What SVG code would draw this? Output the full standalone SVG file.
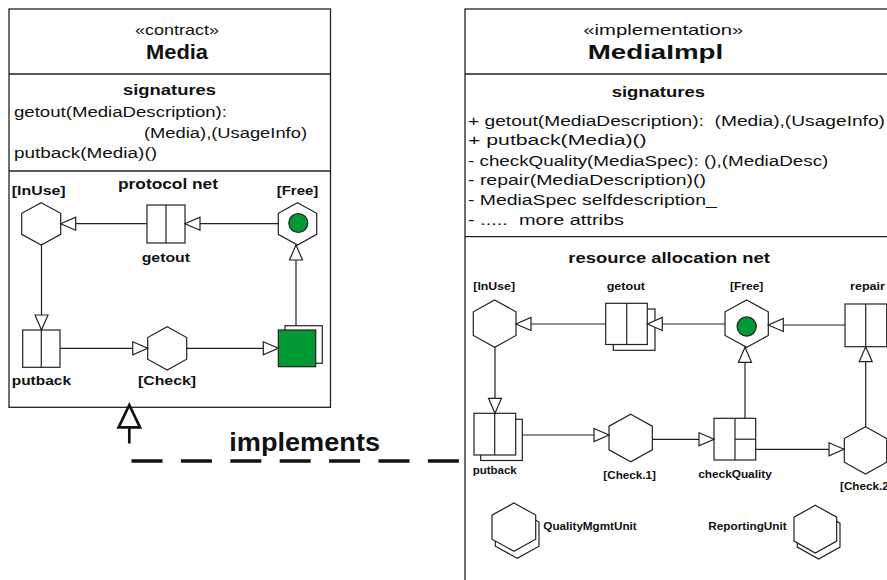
<svg xmlns="http://www.w3.org/2000/svg" width="887" height="580" viewBox="0 0 887 580">
  <style>
    .box { fill: #fff; stroke: #222; stroke-width: 1.3; }
    .div { stroke: #222; stroke-width: 1.3; fill: none; }
    .sh { fill: #fff; stroke: #222; stroke-width: 1.2; }
    .ln { stroke: #222; stroke-width: 1.2; fill: none; }
    .grn { fill: #009933; stroke: #222; stroke-width: 1.2; }
    text { font-family: "Liberation Sans", Arial, Helvetica, sans-serif; fill: #111; }
    .b { font-weight: bold; }
  </style>
  <defs>
    <marker id="open" viewBox="-1 -8 18 16" refX="15" refY="0" markerWidth="18" markerHeight="16" markerUnits="userSpaceOnUse" orient="auto">
      <path d="M0,-6.5 L15,0 L0,6.5 Z" fill="#fff" stroke="#222" stroke-width="1.2"/>
    </marker>
  </defs>

  <!-- contract class Media -->
  <g id="media">
    <rect class="box" x="9" y="9" width="321.5" height="398.3"/>
    <line class="div" x1="9" y1="74" x2="330.5" y2="74"/>
    <line class="div" x1="9" y1="171" x2="330.5" y2="171"/>
    <text x="135" y="35" font-size="14.5" textLength="84" lengthAdjust="spacingAndGlyphs">«contract»</text>
    <text class="b" x="146" y="58.5" font-size="20.5" textLength="62" lengthAdjust="spacingAndGlyphs">Media</text>
    <text class="b" x="123" y="95" font-size="15.5" textLength="93" lengthAdjust="spacingAndGlyphs">signatures</text>
    <text x="14" y="117" font-size="15.5" textLength="213" lengthAdjust="spacingAndGlyphs">getout(MediaDescription):</text>
    <text x="144" y="138" font-size="15.5" textLength="163" lengthAdjust="spacingAndGlyphs">(Media),(UsageInfo)</text>
    <text x="14" y="158" font-size="15.5" textLength="143" lengthAdjust="spacingAndGlyphs">putback(Media)()</text>
    <text class="b" x="118" y="189" font-size="15.5" textLength="100" lengthAdjust="spacingAndGlyphs">protocol net</text>
  </g>

  <!-- protocol net -->
  <g id="p-inuse">
    <polygon class="sh" points="41.2,202.7 60.7,213.3 60.7,234.4 41.2,245 21.7,234.4 21.7,213.3"/>
    <text class="b" x="11.7" y="195" font-size="13.5" textLength="54" lengthAdjust="spacingAndGlyphs">[InUse]</text>
  </g>
  <g id="p-free">
    <polygon class="sh" points="297.5,202.7 316.7,213.3 316.7,234.4 297.5,245 278.3,234.4 278.3,213.3"/>
    <circle class="grn" cx="298.3" cy="223" r="9.5"/>
    <text class="b" x="276.7" y="195" font-size="13.5" textLength="41.6" lengthAdjust="spacingAndGlyphs">[Free]</text>
  </g>
  <g id="p-getout">
    <rect class="sh" x="147" y="205" width="38" height="38"/>
    <line class="ln" x1="166" y1="205" x2="166" y2="243"/>
    <text class="b" x="141.7" y="262" font-size="13.5" textLength="48.3" lengthAdjust="spacingAndGlyphs">getout</text>
  </g>
  <g id="p-putback">
    <rect class="sh" x="22.7" y="330" width="37.3" height="37.3"/>
    <line class="ln" x1="41.3" y1="330" x2="41.3" y2="367.3"/>
    <text class="b" x="11.7" y="385" font-size="13.5" textLength="59.3" lengthAdjust="spacingAndGlyphs">putback</text>
  </g>
  <g id="p-check">
    <polygon class="sh" points="167.2,326.7 186.7,337.5 186.7,359.2 167.2,370 147.7,359.2 147.7,337.5"/>
    <text class="b" x="138" y="385" font-size="13.5" textLength="58" lengthAdjust="spacingAndGlyphs">[Check]</text>
  </g>
  <g id="p-release">
    <rect class="sh" x="285" y="325.7" width="37.3" height="37.6"/>
    <rect class="grn" x="278.3" y="330" width="37.4" height="36.7"/>
  </g>

  <!-- implementation class MediaImpl -->
  <g id="mediaimpl">
    <rect class="box" x="465" y="9" width="440" height="600"/>
    <line class="div" x1="465" y1="74" x2="905" y2="74"/>
    <line class="div" x1="465" y1="236.7" x2="905" y2="236.7"/>
    <text x="583.3" y="34.5" font-size="14.5" textLength="160" lengthAdjust="spacingAndGlyphs">«implementation»</text>
    <text class="b" x="587.7" y="59" font-size="20.5" textLength="135.6" lengthAdjust="spacingAndGlyphs">MediaImpl</text>
    <text class="b" x="611.7" y="96.5" font-size="15.5" textLength="93.3" lengthAdjust="spacingAndGlyphs">signatures</text>
    <text xml:space="preserve" x="468" y="126" font-size="15.5" textLength="417" lengthAdjust="spacingAndGlyphs">+ getout(MediaDescription):  (Media),(UsageInfo)</text>
    <text xml:space="preserve" x="468" y="145" font-size="15.5" textLength="178.7" lengthAdjust="spacingAndGlyphs">+ putback(Media)()</text>
    <text xml:space="preserve" x="468" y="166" font-size="15.5" textLength="360.3" lengthAdjust="spacingAndGlyphs">- checkQuality(MediaSpec): (),(MediaDesc)</text>
    <text xml:space="preserve" x="468" y="185" font-size="15.5" textLength="238" lengthAdjust="spacingAndGlyphs">- repair(MediaDescription)()</text>
    <text xml:space="preserve" x="468" y="205" font-size="15.5" textLength="248.7" lengthAdjust="spacingAndGlyphs">- MediaSpec selfdescription_</text>
    <text xml:space="preserve" x="468" y="225" font-size="15.5" textLength="156" lengthAdjust="spacingAndGlyphs">- .....  more attribs</text>
    <text class="b" x="568.3" y="263.3" font-size="15.5" textLength="201.7" lengthAdjust="spacingAndGlyphs">resource allocation net</text>
  </g>

  <!-- resource allocation net -->
  <g id="r-inuse">
    <polygon class="sh" points="494.7,300 516,311.8 516,335.5 494.7,347.3 473.3,335.5 473.3,311.8"/>
    <text class="b" x="473.3" y="289.5" font-size="11.5" textLength="41.7" lengthAdjust="spacingAndGlyphs">[InUse]</text>
  </g>
  <g id="r-getout">
    <rect class="sh" x="613.3" y="309" width="41.7" height="41.3"/>
    <rect class="sh" x="605.7" y="303.3" width="41.6" height="41.2"/>
    <line class="ln" x1="626.7" y1="303.3" x2="626.7" y2="344.5"/>
    <text class="b" x="606.7" y="289.5" font-size="11.5" textLength="38.3" lengthAdjust="spacingAndGlyphs">getout</text>
  </g>
  <g id="r-free">
    <polygon class="sh" points="746.7,300 768.3,311.8 768.3,335.5 746.7,347.3 725,335.5 725,311.8"/>
    <circle class="grn" cx="746.7" cy="326.5" r="9.6"/>
    <text class="b" x="730" y="289.5" font-size="11.5" textLength="33.3" lengthAdjust="spacingAndGlyphs">[Free]</text>
  </g>
  <g id="r-repair">
    <rect class="sh" x="845" y="304" width="41.7" height="42.7"/>
    <line class="ln" x1="865.7" y1="304" x2="865.7" y2="346.7"/>
    <text class="b" x="850" y="289.5" font-size="11.5" textLength="35" lengthAdjust="spacingAndGlyphs">repair</text>
  </g>
  <g id="r-putback">
    <rect class="sh" x="480.7" y="419.3" width="41.6" height="41.2"/>
    <rect class="sh" x="474" y="413.3" width="41.7" height="41.7"/>
    <line class="ln" x1="494.7" y1="413.3" x2="494.7" y2="455"/>
    <text class="b" x="472.7" y="474" font-size="11.5" textLength="44" lengthAdjust="spacingAndGlyphs">putback</text>
  </g>
  <g id="r-check1">
    <polygon class="sh" points="630.7,414.3 652.3,426.2 652.3,449.8 630.7,461.7 609,449.8 609,426.2"/>
    <text class="b" x="603.3" y="479" font-size="11.5" textLength="52.7" lengthAdjust="spacingAndGlyphs">[Check.1]</text>
  </g>
  <g id="r-checkquality">
    <rect class="sh" x="714" y="418.3" width="41.7" height="41.7"/>
    <line class="ln" x1="735" y1="418.3" x2="735" y2="460"/>
    <line class="ln" x1="735" y1="439.2" x2="755.7" y2="439.2"/>
    <text class="b" x="698.3" y="477.5" font-size="11.5" textLength="73.4" lengthAdjust="spacingAndGlyphs">checkQuality</text>
  </g>
  <g id="r-check2">
    <polygon class="sh" points="865.5,426.7 886.7,438.5 886.7,462.2 865.5,474 844.3,462.2 844.3,438.5"/>
    <text class="b" x="840" y="490" font-size="11.5" textLength="52.7" lengthAdjust="spacingAndGlyphs">[Check.2]</text>
  </g>
  <g id="r-qualitymgmtunit">
    <polygon class="sh" points="517.3,510 539,522.1 539,546.2 517.3,558.3 495.3,546.2 495.3,522.1"/>
    <polygon class="sh" points="514,503 535.7,515.1 535.7,539.2 514,551.3 492,539.2 492,515.1"/>
    <text class="b" x="543.3" y="530" font-size="11.5" textLength="93.4" lengthAdjust="spacingAndGlyphs">QualityMgmtUnit</text>
  </g>
  <g id="r-reportingunit">
    <polygon class="sh" points="818.6,511.3 840,523.2 840,547.1 818.6,559 797.3,547.1 797.3,523.2"/>
    <polygon class="sh" points="815.3,505.3 836.7,517.2 836.7,541.1 815.3,553 794,541.1 794,517.2"/>
    <text class="b" x="708.3" y="530" font-size="11.5" textLength="78.4" lengthAdjust="spacingAndGlyphs">ReportingUnit</text>
  </g>

  <!-- arcs and the realization link -->
  <g id="connectors">
    <line class="ln" x1="278.3" y1="223.7" x2="185" y2="223.7" marker-end="url(#open)"/>
    <line class="ln" x1="147" y1="223.7" x2="60.7" y2="223.7" marker-end="url(#open)"/>
    <line class="ln" x1="41.5" y1="245" x2="41.5" y2="330" marker-end="url(#open)"/>
    <line class="ln" x1="60" y1="348.3" x2="147.7" y2="348.3" marker-end="url(#open)"/>
    <line class="ln" x1="186.7" y1="348.3" x2="278.3" y2="348.3" marker-end="url(#open)"/>
    <line class="ln" x1="296" y1="325.7" x2="296" y2="245" marker-end="url(#open)"/>

    <line class="ln" x1="725" y1="324" x2="647.3" y2="324" marker-end="url(#open)"/>
    <line class="ln" x1="605.7" y1="324" x2="516" y2="324" marker-end="url(#open)"/>
    <line class="ln" x1="845" y1="325" x2="768.3" y2="325" marker-end="url(#open)"/>
    <line class="ln" x1="495" y1="347.3" x2="495" y2="413.3" marker-end="url(#open)"/>
    <line class="ln" x1="522.3" y1="435" x2="609" y2="435" marker-end="url(#open)"/>
    <line class="ln" x1="652.3" y1="439.3" x2="714" y2="439.3" marker-end="url(#open)"/>
    <line class="ln" x1="745" y1="418.3" x2="745" y2="347.3" marker-end="url(#open)"/>
    <line class="ln" x1="755.7" y1="449.3" x2="844" y2="449.3" marker-end="url(#open)"/>
    <line class="ln" x1="865.7" y1="426.7" x2="865.7" y2="346.7" marker-end="url(#open)"/>

    <g id="implements">
      <line x1="131.5" y1="461" x2="460.5" y2="461" stroke="#111" stroke-width="3.3" stroke-dasharray="31 18.4"/>
      <line x1="129.3" y1="427" x2="129.3" y2="443.5" stroke="#111" stroke-width="2.7"/>
      <polygon points="129.3,405 140,427.3 118.6,427.3" fill="#fff" stroke="#111" stroke-width="2.7" stroke-linejoin="miter"/>
      <text class="b" x="229.3" y="451" font-size="26.5" textLength="150.7" lengthAdjust="spacingAndGlyphs">implements</text>
    </g>
  </g>
</svg>
